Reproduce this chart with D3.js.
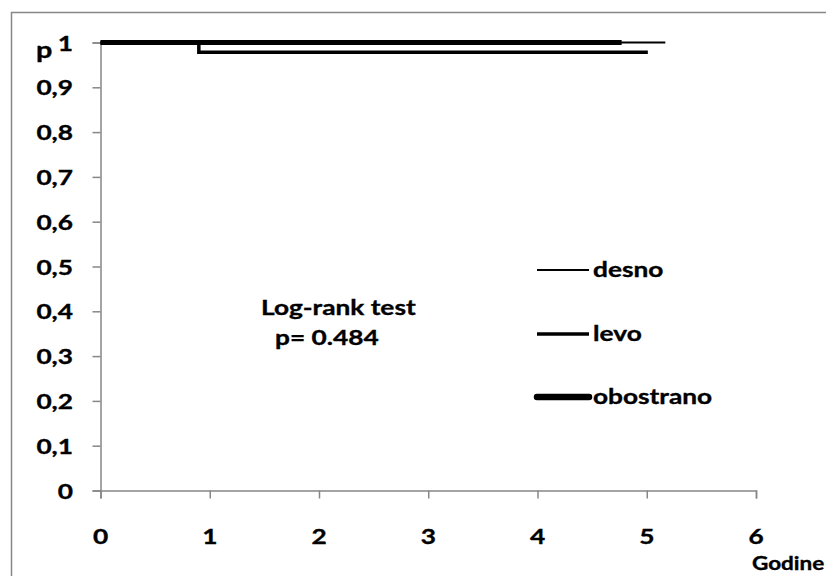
<!DOCTYPE html>
<html>
<head>
<meta charset="utf-8">
<script src="https://cdn.jsdelivr.net/npm/d3@7/dist/d3.min.js"></script>
<style>
  html, body { margin: 0; padding: 0; background: #fff; }
  svg { display: block; }
  text { font-family: Lato, "Open Sans", sans-serif; font-weight: 700; fill: #000; stroke: #000; stroke-width: 0.35px; }
</style>
</head>
<body>
<script>
// Kaplan–Meier survival by side (desno / levo / obostrano)
const seriesNames = ["desno", "levo", "obostrano"];
// step points: [time in years, cumulative survival]
const desnoSteps = [[0, 1], [5.17, 1]];
const levoSteps = [[0, 1], [0.90, 1], [0.90, 0.978], [5.01, 0.978]];
const obostranoSteps = [[0, 1], [4.77, 1]];
const xTicks = [0, 1, 2, 3, 4, 5, 6];
const yTicks = [0, 0.1, 0.2, 0.3, 0.4, 0.5, 0.6, 0.7, 0.8, 0.9, 1];
const yTickLabels = ["0", "0,1", "0,2", "0,3", "0,4", "0,5", "0,6", "0,7", "0,8", "0,9", "1"];
const testTitle = "Log-rank test";
const testResult = "p= 0.484";
const yTitle = "p";
const xTitle = "Godine";

const W = 826, H = 576;
const axisGray = "#878787";
const sx = 1.25; // horizontal stretch for all labels
const fs = 21;

const svg = d3.select("body").append("svg").attr("width", W).attr("height", H);

// outer frame
svg.append("rect")
  .attr("x", 11.5).attr("y", 12.5).attr("width", 900).attr("height", 700)
  .attr("fill", "none").attr("stroke", axisGray).attr("stroke-width", 1.5);

const x = d3.scaleLinear().domain([0, 6]).range([100.5, 756]);
const y = d3.scaleLinear().domain([0, 1]).range([490.5, 42.5]);

function label(g, tx, ty, str, size, anchor) {
  return g.append("text")
    .attr("transform", `translate(${tx},${ty}) scale(${sx},1)`)
    .attr("text-anchor", anchor || "start")
    .style("font-size", size + "px")
    .text(str);
}

// y axis
const yAxis = svg.append("g").attr("transform", `translate(${x(0)},0)`)
  .call(d3.axisLeft(y).tickValues(yTicks).tickSize(8).tickFormat(""));
yAxis.select(".domain").attr("stroke", axisGray).attr("stroke-width", 1.5);
yAxis.selectAll(".tick line").attr("stroke", axisGray).attr("stroke-width", 1.5);
yTicks.forEach((v, i) => label(svg, 73, y(v) + 8, yTickLabels[i], fs, "end"));

// x axis
const xAxis = svg.append("g").attr("transform", `translate(0,${y(0)})`)
  .call(d3.axisBottom(x).tickValues(xTicks).tickSize(8).tickFormat(""));
xAxis.select(".domain").attr("stroke", axisGray).attr("stroke-width", 1.5);
xAxis.selectAll(".tick line").attr("stroke", axisGray).attr("stroke-width", 1.5);
xTicks.forEach(v => label(svg, x(v), 544, String(v), fs, "middle"));

// axis titles
label(svg, 36, 58, yTitle, 23, "start");
label(svg, 752, 570, xTitle, 18, "start");

// survival curves
const line = d3.line().x(d => x(d[0])).y(d => y(d[1]));
const curves = [
  { name: seriesNames[2], steps: obostranoSteps, w: 5, lw: 6.5 },
  { name: seriesNames[1], steps: levoSteps, w: 3.5, lw: 3.5 },
  { name: seriesNames[0], steps: desnoSteps, w: 2, lw: 2 }
];
svg.append("g").selectAll("path").data(curves).join("path")
  .attr("d", d => line(d.steps))
  .attr("fill", "none").attr("stroke", "#000")
  .attr("stroke-width", d => d.w)
  .attr("stroke-linejoin", "miter");

// legend
const legendY = { desno: 270, levo: 334, obostrano: 397 };
const leg = svg.append("g");
curves.forEach(c => {
  leg.append("line")
    .attr("x1", 537).attr("x2", 589)
    .attr("y1", legendY[c.name]).attr("y2", legendY[c.name])
    .attr("stroke", "#000").attr("stroke-width", c.lw)
    .attr("stroke-linecap", c.name === "obostrano" ? "round" : "butt");
  label(leg, 593, legendY[c.name] + 7, c.name, fs, "start");
});

// test annotation
label(svg, 261, 315, testTitle, fs, "start");
label(svg, 275, 345, testResult, fs, "start");
</script>
</body>
</html>
